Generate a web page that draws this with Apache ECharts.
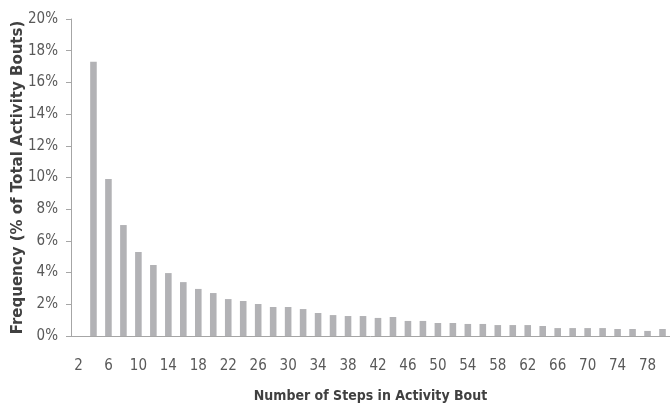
<!DOCTYPE html>
<html><head><meta charset="utf-8">
<script src="https://cdn.jsdelivr.net/npm/echarts@6/dist/echarts.min.js"></script>
<style>html,body{margin:0;padding:0;background:#fff}#c{width:670px;height:405px}</style>
</head><body><div id="c"></div>
<script>
const categories = [];
for (let s = 2; s <= 80; s += 2) categories.push(String(s));
const frequency = [0, 17.3, 9.9, 7.0, 5.3, 4.48, 3.97, 3.4, 2.97, 2.71,
  2.33, 2.21, 2.02, 1.83, 1.83, 1.70, 1.45, 1.32, 1.26, 1.26,
  1.14, 1.2, 0.95, 0.95, 0.82, 0.82, 0.76, 0.76, 0.69, 0.69,
  0.69, 0.63, 0.5, 0.5, 0.5, 0.5, 0.44, 0.44, 0.32, 0.44];
const yTicks = [0, 2, 4, 6, 8, 10, 12, 14, 16, 18, 20];

const narrow = "'Liberation Sans Narrow', 'DejaVu Sans Condensed', sans-serif";
const chart = echarts.init(document.getElementById('c'));
chart.setOption({
  animation: false,
  grid: { left: 71, top: 19, width: 599, height: 317, containLabel: false, outerBoundsMode: 'none' },
  xAxis: {
    type: 'category', data: categories, boundaryGap: true,
    name: 'Number of Steps in Activity Bout', nameLocation: 'middle', nameGap: 53,
    nameMoveOverlap: false,
    nameTextStyle: { fontFamily: narrow, fontWeight: 'bold', fontSize: 14, color: '#404040' },
    axisLine: { lineStyle: { color: '#a6a6a6', width: 1 } },
    axisTick: { interval: 0, length: 7, lineStyle: { color: '#a6a6a6' } },
    axisLabel: { interval: 1, fontFamily: narrow, fontSize: 15, color: '#595959', margin: 23 }
  },
  yAxis: {
    type: 'value', min: 0, max: 20, interval: 2,
    name: 'Frequency (% of Total Activity Bouts)', nameLocation: 'middle', nameGap: 45,
    nameMoveOverlap: false,
    nameTextStyle: { fontFamily: "'DejaVu Sans', sans-serif", fontWeight: 'bold', fontSize: 15, color: '#404040' },
    axisLine: { show: true, lineStyle: { color: '#a6a6a6', width: 1 } },
    axisTick: { show: true, length: 5, lineStyle: { color: '#a6a6a6' } },
    splitLine: { show: false },
    axisLabel: { fontFamily: narrow, fontSize: 15, color: '#595959', margin: 13,
      formatter: v => yTicks.includes(v) ? v + '%' : '' }
  },
  series: [{
    type: 'bar', data: frequency, barWidth: '44%',
    itemStyle: { color: '#b2b2b5' }
  }]
});
</script></body></html>
